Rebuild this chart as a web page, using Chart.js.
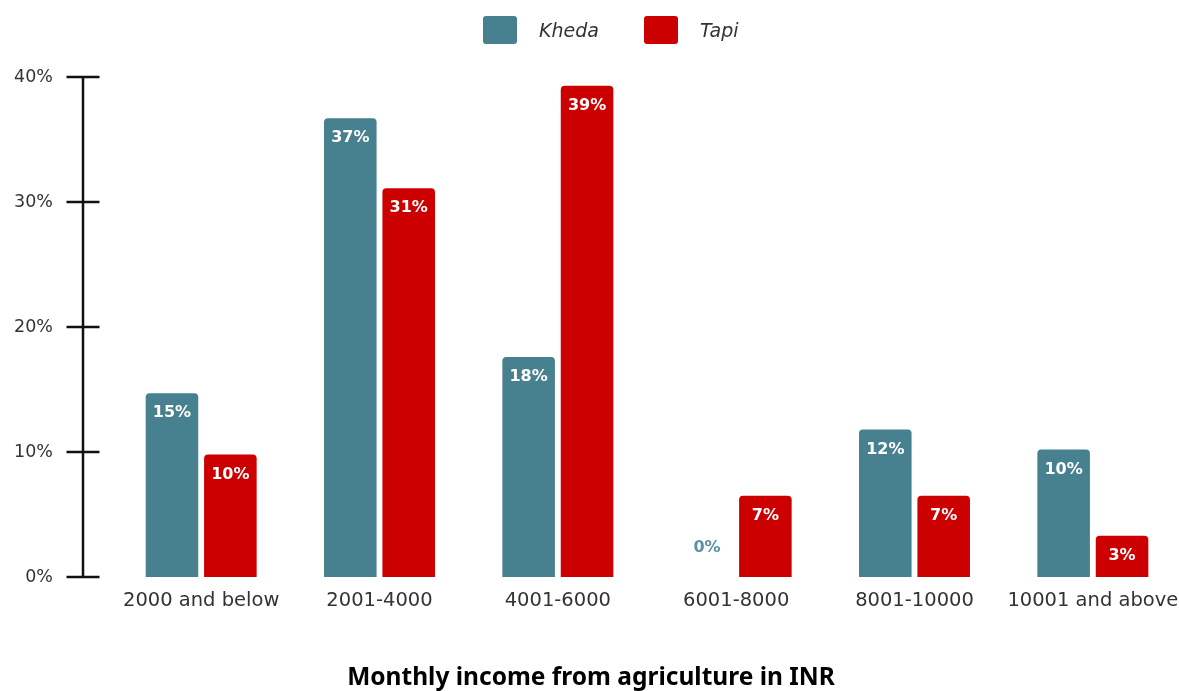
<!DOCTYPE html>
<html>
<head>
<meta charset="utf-8">
<title>Monthly income from agriculture</title>
<script src="https://cdn.jsdelivr.net/npm/chart.js@4.4.0/dist/chart.umd.min.js"></script>
<style>
    html, body { margin: 0; padding: 0; background: #fff; overflow: hidden; }
    .wrap { position: relative; width: 1183px; height: 691px; }
    .legend { position: absolute; top: 16px; left: 483px; display: flex; align-items: center; }
    .legend .item { display: flex; align-items: center; margin-right: 45px; }
    .legend .box { width: 34px; height: 28px; border-radius: 3px; margin-right: 22px; }
    .legend .text { font: oblique 19px "DejaVu Sans"; color: #333; }
</style>
</head>
<body>
<div class="wrap">
    <canvas id="myChart" width="1183" height="691"></canvas>
    <div class="legend" id="legend"></div>
</div>
<script>
// income brackets (INR per month)
const categories = ['2000 and below', '2001-4000', '4001-6000', '6001-8000', '8001-10000', '10001 and above'];
const seriesNames = ['Kheda', 'Tapi'];
const khedaShare = [14.7, 36.7, 17.6, 0, 11.8, 10.2];
const tapiShare = [9.8, 31.1, 39.3, 6.5, 6.5, 3.3];
const yTicks = [0, 10, 20, 30, 40];

const colors = ['#47808e', '#cc0000'];

// y axis drawn as a free-standing line with cross ticks, left of the bars
const axisLine = {
    id: 'axisLine',
    afterDatasetsDraw(chart) {
        const { ctx, chartArea, scales: { y } } = chart;
        const x = chartArea.left - 29;
        ctx.save();
        ctx.strokeStyle = '#111';
        ctx.lineWidth = 2.5;
        ctx.beginPath();
        ctx.moveTo(x, y.getPixelForValue(yTicks[0]));
        ctx.lineTo(x, y.getPixelForValue(yTicks[yTicks.length - 1]));
        yTicks.forEach((t) => {
            const py = y.getPixelForValue(t);
            ctx.moveTo(x - 16.5, py);
            ctx.lineTo(x + 16.5, py);
        });
        ctx.stroke();
        ctx.restore();
    },
};

// percentage inside the top of each bar; empty bars get it above the baseline
const barLabels = {
    id: 'barLabels',
    afterDatasetsDraw(chart) {
        const { ctx } = chart;
        ctx.save();
        ctx.font = 'bold 16px "DejaVu Sans"';
        ctx.textAlign = 'center';
        ctx.textBaseline = 'middle';
        chart.data.datasets.forEach((ds, i) => {
            chart.getDatasetMeta(i).data.forEach((bar, j) => {
                const v = ds.data[j];
                const txt = Math.round(v) + '%';
                if (v >= 1) {
                    ctx.fillStyle = '#fff';
                    ctx.fillText(txt, bar.x, bar.y + 20);
                } else {
                    ctx.fillStyle = '#5a929f';
                    ctx.fillText(txt, bar.x, bar.base - 29);
                }
            });
        });
        ctx.restore();
    },
};

const data = {
    labels: categories,
    datasets: [khedaShare, tapiShare].map((values, i) => ({
        label: seriesNames[i],
        data: values,
        backgroundColor: colors[i],
        borderRadius: 4,
        borderSkipped: 'start',
        barPercentage: 0.9,
        categoryPercentage: 0.655,
    })),
};

const config = {
    type: 'bar',
    data,
    options: {
        responsive: false,
        animation: false,
        layout: { padding: { top: 77, left: 0, right: 1, bottom: 0 } },
        plugins: {
            legend: { display: false },
            tooltip: { enabled: false },
            title: {
                display: true,
                position: 'bottom',
                text: 'Monthly income from agriculture in INR',
                font: { family: 'Noto Sans', size: 24.5, weight: 'bold', lineHeight: 1.06 },
                color: '#000',
                padding: { top: 52, bottom: 0 },
            },
        },
        scales: {
            x: {
                grid: { display: false, drawTicks: false },
                border: { display: false },
                ticks: {
                    font: { family: 'DejaVu Sans', size: 19.5 },
                    color: '#333',
                    padding: 12,
                    autoSkip: false,
                    maxRotation: 0,
                    minRotation: 0,
                },
                afterFit: (scale) => {
                    scale.height = 36;
                    scale.paddingLeft = 0;
                    scale.paddingRight = 0;
                },
            },
            y: {
                min: yTicks[0],
                max: yTicks[yTicks.length - 1],
                afterBuildTicks: (scale) => {
                    scale.ticks = yTicks.map((v) => ({ value: v }));
                },
                ticks: {
                    callback: (v) => v + '%',
                    font: { family: 'DejaVu Sans', size: 17.5 },
                    color: '#333',
                    padding: 59,
                },
                grid: { display: false, drawTicks: false },
                border: { display: false },
                afterFit: (scale) => {
                    scale.width = 112;
                },
            },
        },
    },
    plugins: [axisLine, barLabels],
};

const myChart = new Chart(document.getElementById('myChart'), config);

// legend built from the datasets
const legend = document.getElementById('legend');
data.datasets.forEach((ds) => {
    const item = document.createElement('div');
    item.className = 'item';
    const box = document.createElement('div');
    box.className = 'box';
    box.style.background = ds.backgroundColor;
    const text = document.createElement('span');
    text.className = 'text';
    text.textContent = ds.label;
    item.appendChild(box);
    item.appendChild(text);
    legend.appendChild(item);
});
</script>
</body>
</html>
